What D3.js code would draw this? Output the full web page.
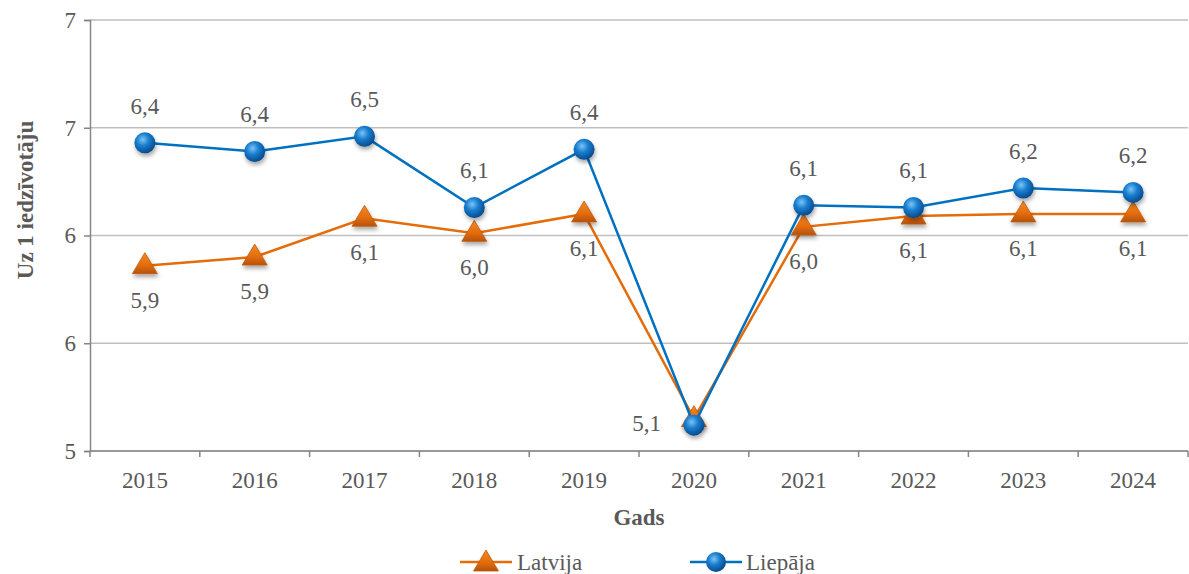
<!DOCTYPE html>
<html>
<head>
<meta charset="utf-8">
<script src="https://cdn.jsdelivr.net/npm/d3@7"></script>
</head>
<body style="margin:0">
<svg id="chart" width="1189" height="574" font-family="Liberation Serif"></svg>
<script>
// data
var years = ["2015", "2016", "2017", "2018", "2019", "2020", "2021", "2022", "2023", "2024"];
var latvija = [5.86, 5.90, 6.08, 6.01, 6.10, 5.15, 6.04, 6.09, 6.10, 6.10];
var liepaja = [6.43, 6.39, 6.46, 6.13, 6.40, 5.12, 6.14, 6.13, 6.22, 6.20];
var yTicks = [5, 5.5, 6, 6.5, 7];

var svg = d3.select("#chart");
var margin = {left: 90, right: 1188, top: 20, bottom: 451};
var fontSize = "23px";

var x = d3.scaleBand().domain(years).range([margin.left, margin.right]);
var y = d3.scaleLinear().domain([5, 7]).range([margin.bottom, margin.top]);
var fmt = function(v) { return v.toFixed(1).replace(".", ","); };

// every text gets the same look
function txt(parent) {
  return parent.append("text").attr("font-family", "Liberation Serif")
    .style("font-family", "Liberation Serif").style("font-size", fontSize).attr("fill", "#595959");
}

var defs = svg.append("defs");
var ball = defs.append("radialGradient").attr("id", "ball")
  .attr("cx", "40%").attr("cy", "35%").attr("r", "65%");
ball.append("stop").attr("offset", "0%").attr("stop-color", "#7cc4f5");
ball.append("stop").attr("offset", "45%").attr("stop-color", "#1a7fd0");
ball.append("stop").attr("offset", "100%").attr("stop-color", "#064a8c");
var tri = defs.append("linearGradient").attr("id", "tri")
  .attr("x1", 0).attr("y1", 0).attr("x2", 0).attr("y2", 1);
tri.append("stop").attr("offset", "0%").attr("stop-color", "#f08a2c");
tri.append("stop").attr("offset", "60%").attr("stop-color", "#e46c0a");
tri.append("stop").attr("offset", "100%").attr("stop-color", "#b5520a");
var shadow = defs.append("filter").attr("id", "shadow")
  .attr("x", "-50%").attr("y", "-50%").attr("width", "200%").attr("height", "200%");
shadow.append("feDropShadow").attr("dx", 1).attr("dy", 3).attr("stdDeviation", 2)
  .attr("flood-color", "#000").attr("flood-opacity", 0.35);

// grid
svg.append("g").selectAll("line").data(yTicks).enter().append("line")
  .attr("x1", margin.left).attr("x2", margin.right)
  .attr("y1", function(d) { return y(d); }).attr("y2", function(d) { return y(d); })
  .attr("stroke", "#bfbfbf").attr("stroke-width", 1.3);

// y axis: ticks at half steps, labels rounded like in the original
var yAxis = svg.append("g").attr("transform", "translate(" + margin.left + ",0)")
  .call(d3.axisLeft(y).tickValues(yTicks).tickFormat(d3.format(".0f")).tickSize(6).tickPadding(8));
yAxis.attr("font-family", "Liberation Serif").attr("font-size", 23);
yAxis.select(".domain").attr("stroke", "#868686").attr("stroke-width", 1.5);
yAxis.selectAll(".tick line").attr("stroke", "#868686").attr("stroke-width", 1.5);
yAxis.selectAll("text").attr("fill", "#595959").style("font-family", "Liberation Serif");

// x axis with ticks between categories
var xAxis = svg.append("g").attr("transform", "translate(0," + margin.bottom + ")");
xAxis.append("line").attr("x1", margin.left).attr("x2", margin.right)
  .attr("stroke", "#868686").attr("stroke-width", 1.5);
var bounds = years.map(function(d) { return x(d); }).concat([margin.right]);
xAxis.selectAll("line.tk").data(bounds).enter().append("line").attr("class", "tk")
  .attr("x1", function(d) { return d; }).attr("x2", function(d) { return d; })
  .attr("y1", 0).attr("y2", 6).attr("stroke", "#868686").attr("stroke-width", 1.5);
years.forEach(function(d) {
  txt(xAxis).attr("x", x(d) + x.bandwidth() / 2).attr("y", 37)
    .attr("text-anchor", "middle").text(d);
});

// axis titles
txt(svg).attr("x", (margin.left + margin.right) / 2).attr("y", 525)
  .attr("text-anchor", "middle").style("font-weight", "bold").text("Gads");
txt(svg).attr("transform", "translate(33,200) rotate(-90)")
  .attr("text-anchor", "middle").style("font-weight", "bold").text("Uz 1 iedzīvotāju");

var cx = function(d, i) { return x(years[i]) + x.bandwidth() / 2; };
var line = d3.line().x(function(d, i) { return cx(d, i); }).y(function(d) { return y(d); });
var triPath = "M0,-12 L12.5,9 L-12.5,9 Z";

// Latvija
svg.append("path").datum(latvija).attr("d", line)
  .attr("fill", "none").attr("stroke", "#e46c0a").attr("stroke-width", 2.5);
svg.append("g").selectAll("path").data(latvija).enter().append("path")
  .attr("transform", function(d, i) { return "translate(" + cx(d, i) + "," + (y(d) - 1) + ")"; })
  .attr("d", triPath).attr("fill", "url(#tri)").attr("stroke", "#c05a08").attr("stroke-width", 0.8)
  .attr("filter", "url(#shadow)");

// Liepaja
svg.append("path").datum(liepaja).attr("d", line)
  .attr("fill", "none").attr("stroke", "#0070c0").attr("stroke-width", 2.5);
svg.append("g").selectAll("circle").data(liepaja).enter().append("circle")
  .attr("cx", cx).attr("cy", function(d) { return y(d); }).attr("r", 10.5)
  .attr("fill", "url(#ball)").attr("filter", "url(#shadow)");

// data labels (2020 labels overlap in the original, only one is shown, left of the point)
latvija.forEach(function(v, i) {
  if (years[i] === "2020") return;
  txt(svg).attr("x", cx(v, i)).attr("y", y(v) + 42).attr("text-anchor", "middle").text(fmt(v));
});
liepaja.forEach(function(v, i) {
  if (years[i] === "2020") {
    txt(svg).attr("x", cx(v, i) - 33).attr("y", y(v) + 6).attr("text-anchor", "end").text(fmt(v));
    return;
  }
  txt(svg).attr("x", cx(v, i)).attr("y", y(v) - 29).attr("text-anchor", "middle").text(fmt(v));
});

// legend
var lg = svg.append("g").attr("transform", "translate(0,562)");
lg.append("line").attr("x1", 460).attr("x2", 512).attr("stroke", "#e46c0a").attr("stroke-width", 2.5);
lg.append("path").attr("transform", "translate(486,0)").attr("d", triPath)
  .attr("fill", "url(#tri)").attr("stroke", "#c05a08").attr("stroke-width", 0.8);
txt(lg).attr("x", 517).attr("y", 8).text("Latvija");
lg.append("line").attr("x1", 690).attr("x2", 742).attr("stroke", "#0070c0").attr("stroke-width", 2.5);
lg.append("circle").attr("cx", 716).attr("r", 10).attr("fill", "url(#ball)");
txt(lg).attr("x", 746).attr("y", 8).text("Liepāja");
</script>
</body>
</html>
